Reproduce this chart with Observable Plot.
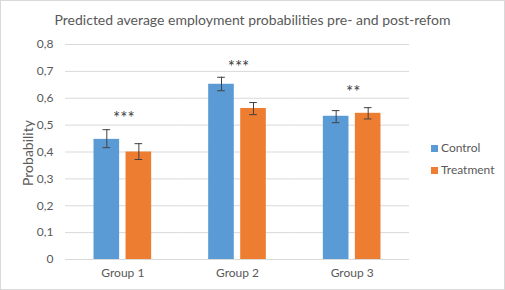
<!DOCTYPE html>
<html><head><meta charset="utf-8">
<script src="https://cdn.jsdelivr.net/npm/d3@7"></script>
<script src="https://cdn.jsdelivr.net/npm/@observablehq/plot@0.6"></script>
<style>
body{margin:0;background:#fff;font-family:Lato,"Open Sans",sans-serif;}
#wrap{position:relative;width:505px;height:290px;overflow:hidden;}
#frame{position:absolute;left:0;top:0;width:503px;height:288px;border:1px solid #d9d9d9;pointer-events:none;}
#title{position:absolute;left:0;top:11px;width:505px;text-align:center;font-size:14px;color:#595959;}
#ylab{position:absolute;left:27px;top:153px;transform:translate(-50%,-50%) rotate(-90deg);font-size:14px;color:#595959;white-space:nowrap;}
#chart{position:absolute;left:0;top:0;}
.leg{position:absolute;left:431px;font-size:12px;color:#595959;line-height:14px;}
.leg span{display:inline-block;width:7px;height:7px;margin-right:3px;vertical-align:0px;}
</style></head>
<body>
<div id="wrap">
<div id="chart"></div>
<div id="title">Predicted average employment probabilities pre- and post-refom</div>
<div id="ylab">Probability</div>
<div class="leg" style="top:141px"><span style="background:#5b9bd5"></span>Control</div>
<div class="leg" style="top:163px"><span style="background:#ed7d31"></span>Treatment</div>
<div id="frame"></div>
</div>
<script>
const groups = ["Group 1", "Group 2", "Group 3"];
const series = ["Control", "Treatment"];
const control = [0.447, 0.652, 0.533];
const controlLo = [0.416, 0.628, 0.509];
const controlHi = [0.483, 0.678, 0.554];
const treatment = [0.400, 0.562, 0.544];
const treatmentLo = [0.372, 0.539, 0.523];
const treatmentHi = [0.431, 0.584, 0.565];
const stars = ["***", "***", "**"];
const starY = [0.535, 0.726, 0.632];
const yTicks = [0, 0.1, 0.2, 0.3, 0.4, 0.5, 0.6, 0.7, 0.8];

const rows = [];
groups.forEach((g, i) => {
  rows.push({group: g, series: "Control", value: control[i], lo: controlLo[i], hi: controlHi[i]});
  rows.push({group: g, series: "Treatment", value: treatment[i], lo: treatmentLo[i], hi: treatmentHi[i]});
});
const starRows = groups.map((g, i) => ({group: g, label: stars[i], y: starY[i]}));

const chart = Plot.plot({
  width: 505,
  height: 290,
  marginLeft: 65,
  marginRight: 96,
  marginTop: 44,
  marginBottom: 31,
  style: {fontFamily: "Lato, 'Open Sans', sans-serif", fontSize: "12px", color: "#595959", background: "transparent"},
  fx: {domain: groups, padding: 0, round: false, label: null, axis: "bottom", tickSize: 0, tickPadding: 9},
  x: {domain: series, paddingInner: 0.2, paddingOuter: 0.89, round: false, axis: null},
  y: {domain: [0, 0.8], ticks: yTicks, tickSize: 0, tickPadding: 12,
      tickFormat: d => d === 0 ? "0" : d.toFixed(1).replace(".", ","),
      label: null},
  color: {domain: series, range: ["#5b9bd5", "#ed7d31"]},
  marks: [
    Plot.gridY(yTicks, {stroke: "#d9d9d9", strokeOpacity: 1}),
    Plot.barY(rows, {fx: "group", x: "series", y: "value", fill: "series"}),
    Plot.ruleX(rows, {fx: "group", x: "series", y1: "lo", y2: "hi", stroke: "#404040", strokeWidth: 1}),
    Plot.tickY(rows, {fx: "group", x: "series", y: "lo", stroke: "#404040", insetLeft: 9, insetRight: 9}),
    Plot.tickY(rows, {fx: "group", x: "series", y: "hi", stroke: "#404040", insetLeft: 9, insetRight: 9}),
    Plot.text(starRows, {fx: "group", y: "y", text: "label", frameAnchor: "middle", fill: "#404040", fontSize: 17, dx: 1, dy: 3})
  ]
});
document.getElementById("chart").appendChild(chart);
</script>
</body></html>
